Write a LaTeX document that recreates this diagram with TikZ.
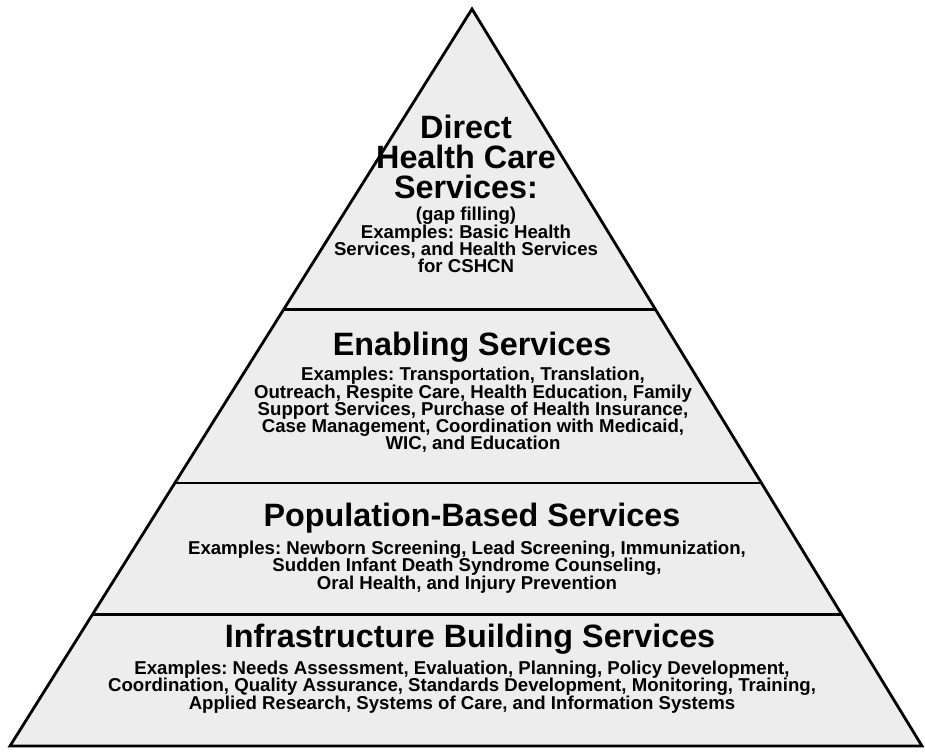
\documentclass[tikz,border=0pt]{standalone}
\usepackage{fontspec}
\setmainfont{Liberation Sans}
\usetikzlibrary{calc}
\frenchspacing
\newcommand{\bodyfont}{\fontsize{10.6}{9.8}\selectfont\bfseries\setlength{\lineskiplimit}{-6pt}}

\begin{document}
\begin{tikzpicture}[x=0.02cm, y=-0.02cm,
    tiertitle/.style={align=center, inner sep=0pt, font=\fontsize{18.4}{17}\selectfont\bfseries},
    tierbody/.style={align=center, inner sep=0pt, font=\bodyfont},
    edge/.style={line width=1.6pt}]
    \useasboundingbox (0,0) rectangle (925,751);
    % pyramid outline
    \coordinate (apex) at (472,9);
    \coordinate (baseL) at (10,746);
    \coordinate (baseR) at (922,746);
    \fill[black!7] (apex) -- (baseL) -- (baseR) -- cycle;
    \draw[edge] (apex) -- (baseL) -- (baseR) -- cycle;
    % tier dividers
    \foreach \t in {0.408, 0.643, 0.822} {
        \draw[edge] ($(apex)!\t!(baseL)$) -- ($(apex)!\t!(baseR)$);
    }
    % tier 1
    \node[tiertitle] (directtitle) at (466,157) {Direct\\Health Care\\Services:};
    \node[tierbody] (directbody) at (466,240) {(gap filling)\\Examples: Basic Health\\Services, and Health Services\\for CSHCN};
    % tier 2
    \node[tiertitle] (enablingtitle) at (472,347) {Enabling Services};
    \node[tierbody] (enablingbody) at (473,410) {Examples: Transportation, Translation,\\Outreach, Respite Care, Health Education, Family\\Support Services, Purchase of Health Insurance,\\Case Management, Coordination with Medicaid,\\WIC, and Education};
    % tier 3
    \node[tiertitle] (poptitle) at (472,518) {Population-Based Services};
    \node[tierbody] (popbody) at (467,567) {Examples: Newborn Screening, Lead Screening, Immunization,\\Sudden Infant Death Syndrome Counseling,\\Oral Health, and Injury Prevention};
    % tier 4
    \node[tiertitle] (infratitle) at (470,639) {Infrastructure Building Services};
    \node[tierbody] (infrabody) at (462,687) {Examples: Needs Assessment, Evaluation, Planning, Policy Development,\\Coordination, Quality Assurance, Standards Development, Monitoring, Training,\\Applied Research, Systems of Care, and Information Systems};
\end{tikzpicture}
\end{document}
